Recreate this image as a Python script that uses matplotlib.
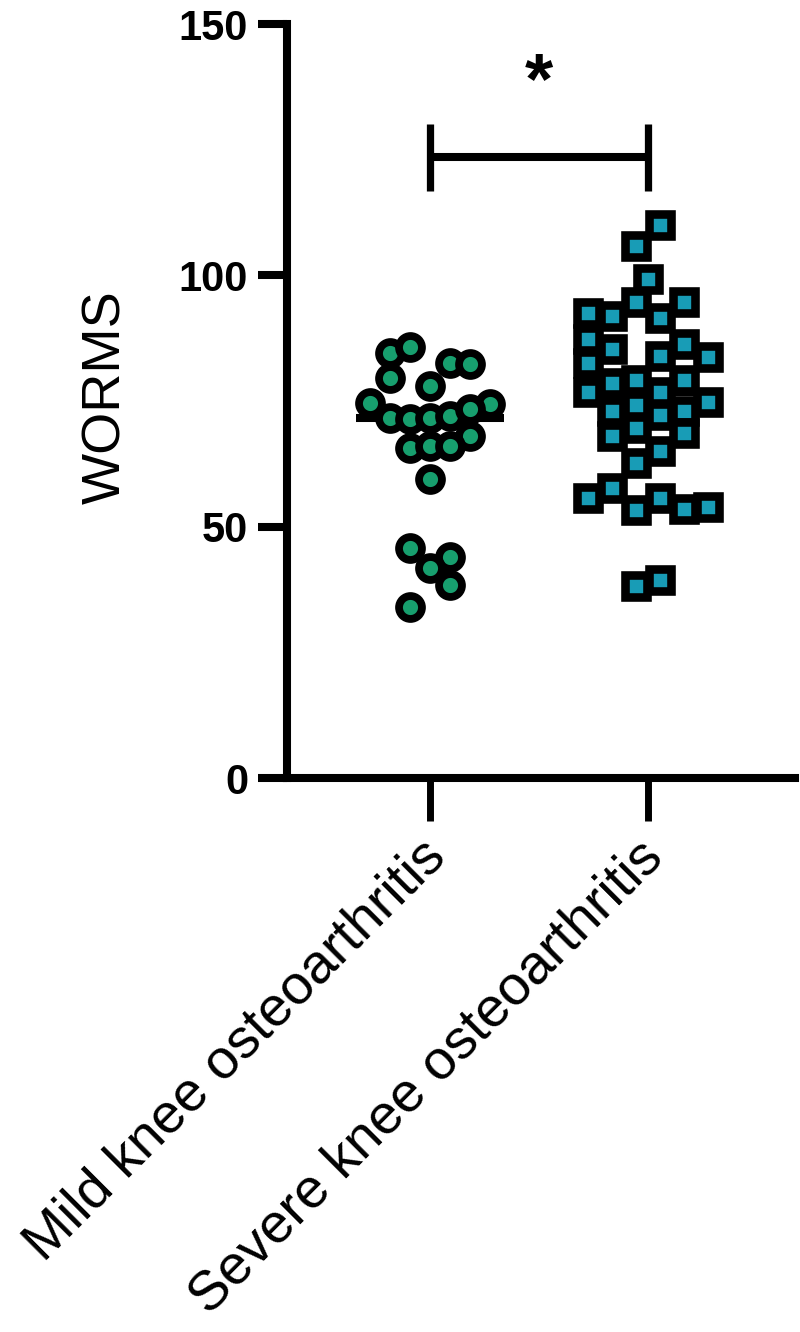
import numpy as np
import matplotlib
matplotlib.use("Agg")
import matplotlib.pyplot as plt
import matplotlib.transforms as mtransforms

# ---------------- data ----------------
categories = ["Mild knee osteoarthritis", "Severe knee osteoarthritis"]

mild_worms = [84.6, 85.8, 79.5, 82.5, 82.4, 78.0, 74.7, 74.5, 71.7, 71.5, 71.7, 72.0,
              73.5, 68.1, 65.6, 66.0, 66.1, 59.5, 45.8, 44.0, 41.7, 38.3, 34.1]
mild_slot = [-2, -1, -2, 1, 2, 0, -3, 3, -2, -1, 0, 1,
             2, 2, -1, 0, 1, 0, -1, 1, 0, 1, -1]

severe_worms = [110.0, 105.8, 99.3, 94.6, 94.6, 92.6, 91.9, 91.6, 87.3, 85.3, 86.3, 83.9,
                83.7, 82.5, 78.5, 79.2, 76.8, 79.2, 76.8, 74.8, 73.1, 74.2, 72.2, 73.0,
                68.0, 69.6, 68.6, 65.0, 62.6, 57.6, 55.8, 53.3, 55.8, 53.6, 54.0, 38.2, 39.4]
severe_slot = [0.5, -0.5, 0, -0.5, 1.5, -2.5, -1.5, 0.5, -2.5, -1.5, 1.5, 0.5,
               2.5, -2.5, -1.5, -0.5, 0.5, 1.5, -2.5, 2.5, -1.5, -0.5, 0.5, 1.5,
               -1.5, -0.5, 1.5, 0.5, -0.5, -1.5, -2.5, -0.5, 0.5, 1.5, 2.5, -0.5, 0.5]

yticks = [0, 50, 100, 150]
y_label = "WORMS"
sig_text = "*"
sig_y = 123.5
sig_drop = 6.7

# ---------------- style ----------------
plt.rcParams['font.family'] = ['Liberation Sans', 'DejaVu Sans']
green = '#179f6e'
blue = '#189cb6'
LW = 5.8

fig = plt.figure(figsize=(8, 13.32), dpi=100)
ax = fig.add_axes([287/800, 1 - 778/1332, (795-287)/800, (778-24)/1332])

ax.set_xlim(-0.656, 1.674)
ax.set_ylim(0, 150)

# median lines
for i, vals in enumerate([mild_worms, severe_worms]):
    med = np.median(vals)
    ax.hlines(med, i - 0.34, i + 0.34, color='black', lw=LW, zorder=2)

# points
ax.plot(0 + np.array(mild_slot) * 0.0917, mild_worms, linestyle='none', marker='o',
        ms=16.5, mew=5.6, mfc=green, mec='black', zorder=3, clip_on=False)
ax.plot(1 + np.array(severe_slot) * 0.110 - 0.002, severe_worms, linestyle='none', marker='s',
        ms=16.4, mew=6.2, mfc=blue, mec='black', zorder=3, clip_on=False)

# significance bracket
ax.plot([0, 1], [sig_y, sig_y], color='black', lw=LW, solid_capstyle='butt', clip_on=False)
ax.plot([0, 0], [sig_y - sig_drop, sig_y + sig_drop], color='black', lw=LW*0.9,
        solid_capstyle='butt')
ax.plot([1, 1], [sig_y - sig_drop, sig_y + sig_drop], color='black', lw=LW*0.9,
        solid_capstyle='butt')
ax.text(0.5, 138.0, sig_text, ha='center', va='center', fontsize=52, fontweight='bold')

# spines
for s in ['top', 'right']:
    ax.spines[s].set_visible(False)
for s in ['left', 'bottom']:
    ax.spines[s].set_linewidth(LW)
ax.spines['left'].set_capstyle('projecting')

ax.set_yticks(yticks)
ax.set_yticklabels([str(v) for v in yticks], fontsize=30, fontweight='bold')
ax.tick_params(axis='y', direction='out', length=21, width=LW, pad=7)

ax.set_xticks([0, 1])
ax.set_xticklabels(categories, fontsize=40, rotation=45, ha='right', va='top',
                   rotation_mode='anchor')
ax.tick_params(axis='x', direction='out', length=31, width=5.0, pad=7)
offset = mtransforms.ScaledTranslation(-11/100, 0, fig.dpi_scale_trans)
for lab in ax.get_xticklabels():
    lab.set_transform(lab.get_transform() + offset)

ax.set_ylabel(y_label, fontsize=39, labelpad=0)
ax.yaxis.set_label_coords(-(287-131)/508, (778-397)/754)

fig.savefig('out.png', dpi=100)
